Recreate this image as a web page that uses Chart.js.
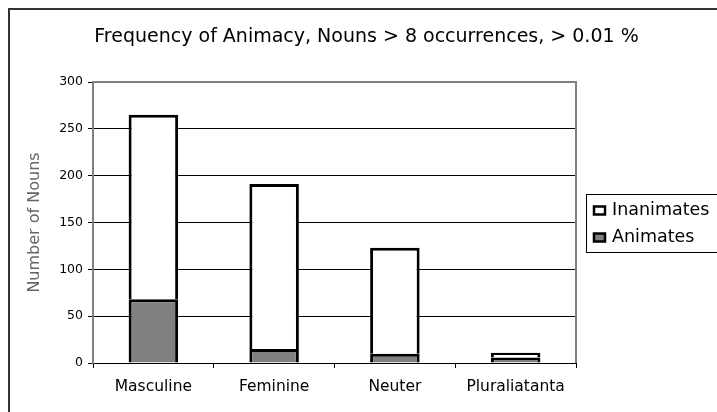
<!DOCTYPE html>
<html>
<head>
<meta charset="utf-8">
<script src="https://cdn.jsdelivr.net/npm/chart.js@4/dist/chart.umd.min.js"></script>
<style>
  html, body { margin: 0; padding: 0; background: #fff; }
  #wrap { width: 717px; height: 412px; position: relative; }
</style>
</head>
<body>
<div id="wrap"><canvas id="c" width="717" height="412"></canvas></div>
<script>
const categories = ["Masculine", "Feminine", "Neuter", "Pluraliatanta"];
const animates = [68, 15, 10, 6];
const inanimates = [197, 176, 113, 5];
const yTicks = [0, 50, 100, 150, 200, 250, 300];
const chartTitle = "Frequency of Animacy, Nouns > 8 occurrences, > 0.01 %";
const yTitle = "Number of Nouns";

const FONT = "'DejaVu Sans', Verdana, sans-serif";

const framePlugin = {
  id: 'frame',
  afterDraw(chart) {
    const ctx = chart.ctx;
    const a = chart.chartArea;
    ctx.save();
    // outer frame (left and top)
    ctx.strokeStyle = '#333';
    ctx.lineWidth = 2;
    ctx.beginPath();
    ctx.moveTo(9, 412);
    ctx.lineTo(9, 9);
    ctx.lineTo(717, 9);
    ctx.stroke();
    // title
    ctx.fillStyle = '#000';
    ctx.font = '19px ' + FONT;
    ctx.textAlign = 'center';
    ctx.textBaseline = 'middle';
    ctx.fillText(chartTitle, 366.5, 37);
    // plot area top & right border
    ctx.strokeStyle = '#808080';
    ctx.lineWidth = 2;
    ctx.beginPath();
    ctx.moveTo(a.left, a.top);
    ctx.lineTo(a.right, a.top);
    ctx.lineTo(a.right, a.bottom);
    ctx.stroke();
    // legend
    const bx = 586.5, by = 194.5, bw = 140, bh = 58;
    ctx.strokeStyle = '#000';
    ctx.lineWidth = 1;
    ctx.strokeRect(bx, by, bw, bh);
    const items = chart.data.datasets.slice().reverse();
    ctx.font = '17.5px ' + FONT;
    ctx.textBaseline = 'middle';
    ctx.textAlign = 'left';
    items.forEach((ds, i) => {
      const cy = 210 + i * 27;
      ctx.fillStyle = ds.backgroundColor;
      ctx.fillRect(594, cy - 3.5, 11, 8);
      ctx.strokeStyle = '#000';
      ctx.lineWidth = 2.5;
      ctx.strokeRect(594, cy - 3.5, 11, 8);
      ctx.fillStyle = '#000';
      ctx.fillText(ds.label, 612, cy);
    });
    ctx.restore();
  }
};

new Chart(document.getElementById('c'), {
  type: 'bar',
  data: {
    labels: categories,
    datasets: [
      { label: 'Animates', data: animates, backgroundColor: '#808080', borderColor: '#000', borderWidth: 3,
        categoryPercentage: 1, barPercentage: 0.41 },
      { label: 'Inanimates', data: inanimates, backgroundColor: '#ffffff', borderColor: '#000', borderWidth: 3,
        categoryPercentage: 1, barPercentage: 0.41 }
    ]
  },
  options: {
    responsive: false,
    animation: false,
    devicePixelRatio: 1,
    layout: { padding: { left: 0, right: 141, top: 82, bottom: 0 } },
    plugins: {
      legend: { display: false },
      tooltip: { enabled: false },
      title: { display: false }
    },
    scales: {
      x: {
        stacked: true,
        grid: { display: true, drawOnChartArea: false, drawTicks: true, tickLength: 5, color: '#000', offset: true },
        border: { display: true, color: '#000', width: 1 },
        ticks: { color: '#000', font: { family: FONT, size: 15.5 }, padding: 10, maxRotation: 0 },
        afterFit(scale) { scale.height = 49; }
      },
      y: {
        stacked: true,
        min: 0, max: 300,
        afterBuildTicks(scale) { scale.ticks = yTicks.map(v => ({ value: v })); },
        grid: { color: '#000', lineWidth: 1, drawTicks: true, tickLength: 5, tickColor: '#000' },
        border: { display: true, color: '#808080', width: 2 },
        ticks: { color: '#000', font: { family: FONT, size: 12.5 }, padding: 5 },
        title: { display: true, text: yTitle, color: '#666', font: { family: FONT, size: 16 }, padding: { top: 25, bottom: 0 } },
        afterFit(scale) { scale.width = 93; }
      }
    }
  },
  plugins: [framePlugin]
});
</script>
</body>
</html>
